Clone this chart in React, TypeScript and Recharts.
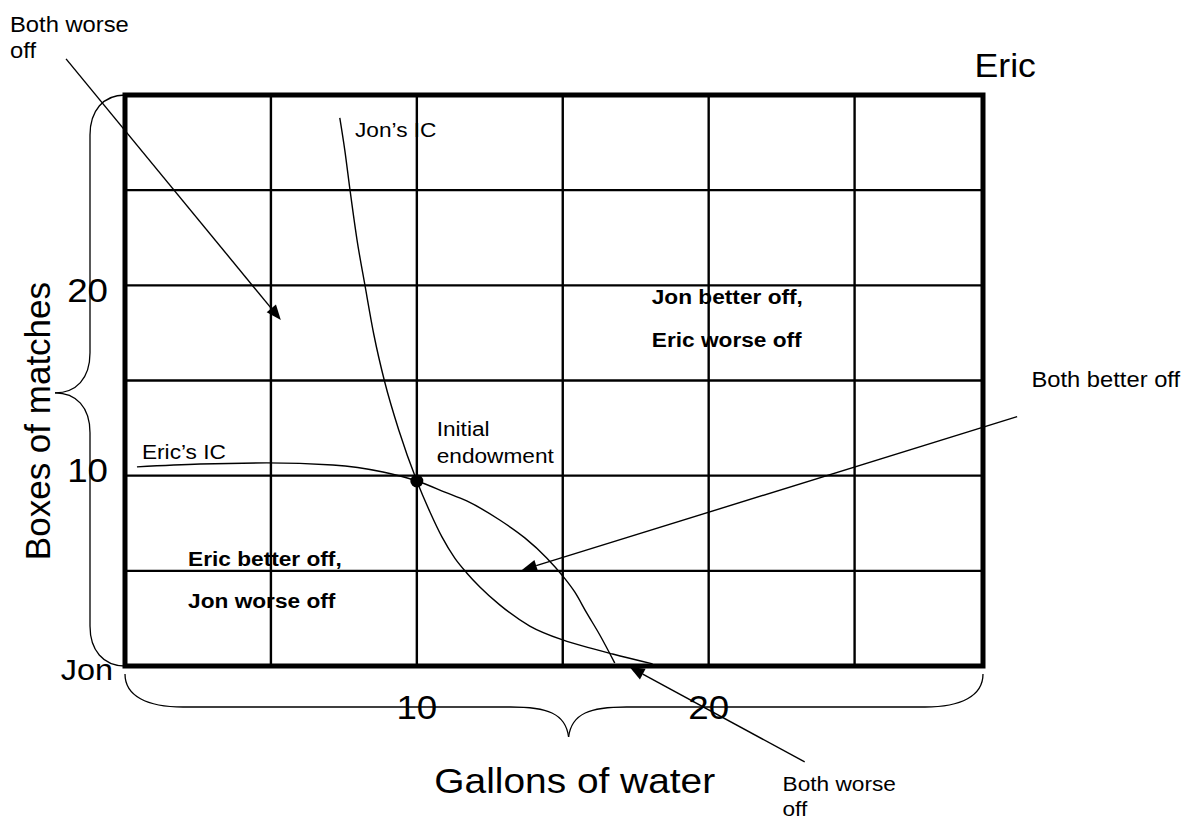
import React from 'react';
import {
  ComposedChart,
  Line,
  Scatter,
  XAxis,
  YAxis,
  CartesianGrid,
  ReferenceArea,
  ReferenceLine,
  ReferenceDot,
} from 'recharts';

// ---------- data ----------
const boxWidth = 29.4; // gallons of water
const boxHeight = 30; // boxes of matches
const gridX = [0, 5, 10, 15, 20, 25];
const gridY = [0, 5, 10, 15, 20, 25, 30];
const xTickLabels = [10, 20];
const yTickLabels = [10, 20];

const jonIC = [
  { x: 7.36, y: 28.8 },
  { x: 7.53, y: 27.12 },
  { x: 7.71, y: 25.01 },
  { x: 7.95, y: 22.39 },
  { x: 8.22, y: 20.02 },
  { x: 8.53, y: 17.39 },
  { x: 8.9, y: 14.92 },
  { x: 9.38, y: 12.4 },
  { x: 10.0, y: 9.72 },
  { x: 10.45, y: 8.09 },
  { x: 10.86, y: 6.78 },
  { x: 11.3, y: 5.67 },
  { x: 11.71, y: 4.89 },
  { x: 12.16, y: 4.15 },
  { x: 12.84, y: 3.21 },
  { x: 13.87, y: 2.1 },
  { x: 15.0, y: 1.37 },
  { x: 15.92, y: 0.95 },
  { x: 16.71, y: 0.63 },
  { x: 18.08, y: 0.11 },
];

const ericIC = [
  { x: 0.41, y: 10.46 },
  { x: 2.57, y: 10.61 },
  { x: 4.86, y: 10.67 },
  { x: 7.12, y: 10.56 },
  { x: 8.84, y: 10.19 },
  { x: 10.0, y: 9.72 },
  { x: 10.96, y: 9.14 },
  { x: 11.71, y: 8.67 },
  { x: 12.84, y: 7.67 },
  { x: 13.7, y: 6.73 },
  { x: 14.45, y: 5.68 },
  { x: 15.0, y: 4.73 },
  { x: 15.41, y: 3.89 },
  { x: 15.82, y: 2.79 },
  { x: 16.27, y: 1.63 },
  { x: 16.78, y: 0.16 },
];

const endowment = [{ x: 10, y: 9.72 }];

const braceTipY = 14.35;
const braceTipX = 15.2;

// ---------- drawing helpers ----------
const FONT = '"Liberation Sans", Arial, Helvetica, sans-serif';
const SX = 1.08;

const SText = ({ x, y, size, bold, anchor = 'start', rotate = 0, sx = SX, children }: any) => (
  <text
    transform={`translate(${x},${y}) rotate(${rotate}) scale(${sx},1)`}
    x={0}
    y={0}
    fontSize={size}
    fontWeight={bold ? 'bold' : 'normal'}
    fontFamily={FONT}
    textAnchor={anchor}
    fill="#000"
  >
    {children}
  </text>
);

const textShape =
  (
    lines: string[],
    size: number,
    opts: { bold?: boolean; gap?: number; anchor?: string; rotate?: number; sx?: number } = {}
  ) =>
  (p: any) => (
    <g>
      {lines.map((t, i) => (
        <SText
          key={i}
          x={p.cx}
          y={p.cy + i * (opts.gap || 0)}
          size={size}
          bold={opts.bold}
          anchor={opts.anchor}
          rotate={opts.rotate}
          sx={opts.sx ?? SX}
        >
          {t}
        </SText>
      ))}
    </g>
  );

const arrowShape = (p: any) => {
  const { x1, y1, x2, y2 } = p;
  const dx = x2 - x1;
  const dy = y2 - y1;
  const len = Math.hypot(dx, dy) || 1;
  const ux = dx / len;
  const uy = dy / len;
  const L = 15;
  const W = 6;
  const bx = x2 - ux * L;
  const by = y2 - uy * L;
  const pts = `${x2},${y2} ${bx - uy * W},${by + ux * W} ${bx + uy * W},${by - ux * W}`;
  return (
    <g>
      <line x1={x1} y1={y1} x2={bx} y2={by} stroke="#000" strokeWidth={1.4} />
      <polygon points={pts} fill="#000" />
    </g>
  );
};

// half of a vertical brace on the left: from corner (x1,y1) to tip level (x2,y2)
const vBraceHalf = (p: any) => {
  const { x1, y1, y2 } = p;
  const dir = Math.sign(y2 - y1) || 1;
  const d = 35;
  const path = `M ${x1},${y1} C ${x1 - 22},${y1} ${x1 - d},${y1 + dir * 16} ${x1 - d},${y1 + dir * 40}
    L ${x1 - d},${y2 - dir * 40} C ${x1 - d},${y2 - dir * 14} ${x1 - d - 14},${y2} ${x1 - 2 * d},${y2}`;
  return <path d={path} fill="none" stroke="#000" strokeWidth={1.3} />;
};

// half of a horizontal brace below: from corner (x1,y1) to tip (x2,y2)
const hBraceHalf = (p: any) => {
  const { x1, y1, x2 } = p;
  const dir = Math.sign(x2 - x1) || 1;
  const top = y1 + 8;
  const mid = y1 + 41;
  const tip = y1 + 71;
  const path = `M ${x1},${top} C ${x1},${top + 22} ${x1 + dir * 22},${mid} ${x1 + dir * 58},${mid}
    L ${x2 - dir * 58},${mid} C ${x2 - dir * 22},${mid} ${x2 - dir * 3},${mid + 6} ${x2},${tip}`;
  return <path d={path} fill="none" stroke="#000" strokeWidth={1.3} />;
};

const XTick = (p: any) => (
  <SText x={p.x} y={p.y + 53} size={34} anchor="middle">
    {p.payload.value}
  </SText>
);

const yTickShift: Record<number, number> = { 10: 6, 20: 17 };
const YTick = (p: any) => (
  <SText x={p.x - 17} y={p.y + (yTickShift[p.payload.value] ?? 11)} size={34} anchor="end">
    {p.payload.value}
  </SText>
);

const dotShape = (p: any) => <circle cx={p.cx} cy={p.cy} r={6.5} fill="#000" />;

export default function App() {
  return (
    <div style={{ position: 'absolute', left: 0, top: 0, background: '#fff' }}>
      <ComposedChart
        width={1187}
        height={821}
        margin={{ top: 95, right: 204, bottom: 115, left: 85 }}
      >
        <XAxis
          type="number"
          dataKey="x"
          domain={[0, boxWidth]}
          allowDataOverflow
          ticks={xTickLabels}
          height={40}
          axisLine={false}
          tickLine={false}
          tickSize={0}
          tickMargin={0}
          tick={XTick}
          interval={0}
        />
        <YAxis
          type="number"
          dataKey="y"
          domain={[0, boxHeight]}
          allowDataOverflow
          ticks={yTickLabels}
          width={40}
          axisLine={false}
          tickLine={false}
          tickSize={0}
          tickMargin={0}
          tick={YTick}
          interval={0}
        />
        <CartesianGrid
          stroke="#000"
          strokeWidth={2.4}
          verticalValues={gridX}
          horizontalValues={gridY}
        />
        <ReferenceArea
          x1={0}
          x2={boxWidth}
          y1={0}
          y2={boxHeight}
          fill="none"
          fillOpacity={0}
          stroke="#000"
          strokeWidth={5}
          ifOverflow="visible"
        />

        <Line
          data={jonIC}
          dataKey="y"
          type="monotone"
          stroke="#000"
          strokeWidth={1.4}
          dot={false}
          activeDot={false}
          isAnimationActive={false}
        />
        <Line
          data={ericIC}
          dataKey="y"
          type="monotone"
          stroke="#000"
          strokeWidth={1.4}
          dot={false}
          activeDot={false}
          isAnimationActive={false}
        />
        <Scatter data={endowment} dataKey="y" shape={dotShape} isAnimationActive={false} />

        {/* braces */}
        <ReferenceLine
          segment={[{ x: 0, y: boxHeight }, { x: 0, y: braceTipY }]}
          ifOverflow="visible"
          shape={vBraceHalf}
        />
        <ReferenceLine
          segment={[{ x: 0, y: 0 }, { x: 0, y: braceTipY }]}
          ifOverflow="visible"
          shape={vBraceHalf}
        />
        <ReferenceLine
          segment={[{ x: 0, y: 0 }, { x: braceTipX, y: 0 }]}
          ifOverflow="visible"
          shape={hBraceHalf}
        />
        <ReferenceLine
          segment={[{ x: boxWidth, y: 0 }, { x: braceTipX, y: 0 }]}
          ifOverflow="visible"
          shape={hBraceHalf}
        />

        {/* arrows */}
        <ReferenceLine
          segment={[{ x: -2.02, y: 31.9 }, { x: 5.34, y: 18.18 }]}
          ifOverflow="visible"
          shape={arrowShape}
        />
        <ReferenceLine
          segment={[{ x: 30.57, y: 13.1 }, { x: 13.6, y: 5.04 }]}
          ifOverflow="visible"
          shape={arrowShape}
        />
        <ReferenceLine
          segment={[{ x: 23.29, y: -5.04 }, { x: 17.29, y: -0.05 }]}
          ifOverflow="visible"
          shape={arrowShape}
        />

        {/* text annotations */}
        <ReferenceDot x={-3.94} y={33.32} ifOverflow="visible" shape={textShape(['Both worse', 'off'], 22, { gap: 26 })} />
        <ReferenceDot x={29.11} y={30.95} ifOverflow="visible" shape={textShape(['Eric'], 33)} />
        <ReferenceDot x={-0.41} y={-0.74} ifOverflow="visible" shape={textShape(['Jon'], 30, { anchor: 'end' })} />
        <ReferenceDot x={7.88} y={27.8} ifOverflow="visible" shape={textShape(['Jon\u2019s IC'], 21)} />
        <ReferenceDot x={0.58} y={10.88} ifOverflow="visible" shape={textShape(['Eric\u2019s IC'], 21)} />
        <ReferenceDot x={10.68} y={12.09} ifOverflow="visible" shape={textShape(['Initial', 'endowment'], 21, { gap: 27 })} />
        <ReferenceDot x={18.05} y={19.02} ifOverflow="visible" shape={textShape(['Jon better off,', 'Eric worse off'], 21, { bold: true, gap: 43 })} />
        <ReferenceDot x={2.16} y={5.25} ifOverflow="visible" shape={textShape(['Eric better off,', 'Jon worse off'], 21, { bold: true, gap: 42 })} />
        <ReferenceDot x={31.06} y={14.66} ifOverflow="visible" shape={textShape(['Both better off'], 22)} />
        <ReferenceDot x={22.53} y={-6.55} ifOverflow="visible" shape={textShape(['Both worse', 'off'], 21, { gap: 25 })} />
        <ReferenceDot x={15.41} y={-6.67} ifOverflow="visible" shape={textShape(['Gallons of water'], 36, { anchor: 'middle' })} />
        <ReferenceDot x={-2.57} y={12.87} ifOverflow="visible" shape={textShape(['Boxes of matches'], 35, { anchor: 'middle', rotate: -90, sx: 1 })} />
      </ComposedChart>
    </div>
  );
}
